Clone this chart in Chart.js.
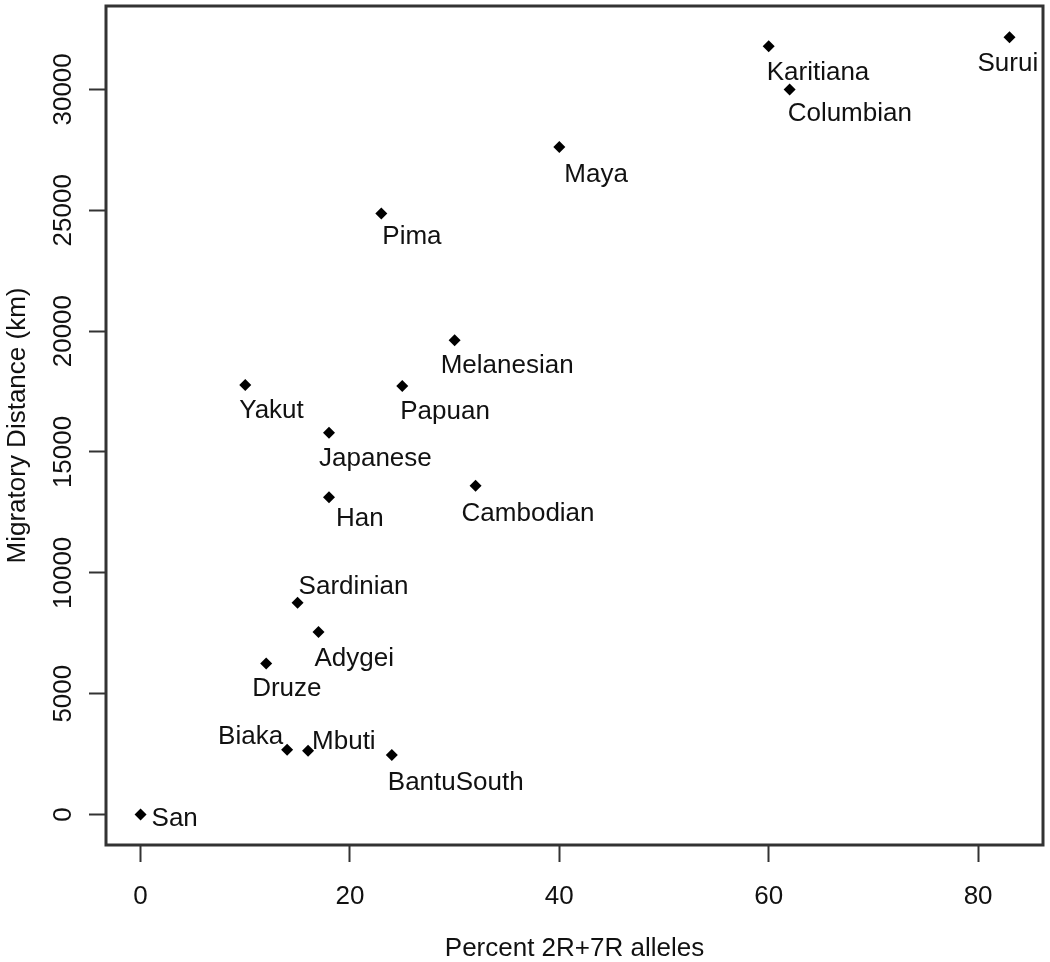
<!DOCTYPE html>
<html>
<head>
<meta charset="utf-8">
<script src="https://cdn.jsdelivr.net/npm/chart.js@4.4.1/dist/chart.umd.min.js"></script>
<style>
    html, body { margin: 0; padding: 0; background: #fff; }
</style>
</head>
<body>
<canvas id="migrationChart" width="1050" height="962"></canvas>
<script>
const populations = ['San', 'Biaka', 'Mbuti', 'BantuSouth', 'Druze', 'Adygei', 'Sardinian', 'Yakut', 'Japanese',
    'Han', 'Papuan', 'Melanesian', 'Cambodian', 'Pima', 'Maya', 'Karitiana', 'Columbian', 'Surui'];
const percentAlleles = [0, 14, 16, 24, 12, 17, 15, 10, 18, 18, 25, 30, 32, 23, 40, 60, 62, 83];
const migratoryDistance = [0, 2680, 2640, 2460, 6250, 7550, 8760, 17770, 15800, 13130, 17730, 19620, 13600,
    24870, 27620, 31790, 30000, 32160];
const xTicks = [0, 20, 40, 60, 80];
const yTicks = [0, 5000, 10000, 15000, 20000, 25000, 30000];

// name placement next to each point: [dx, dy to baseline, align]
const labelPlacement = [
    [11, 11, 'left'], [-4, -6, 'right'], [4, -2, 'left'], [-4, 35, 'left'], [-14, 33, 'left'],
    [-4, 34, 'left'], [1, -9, 'left'], [-6, 33, 'left'], [-10, 33, 'left'], [7, 29, 'left'],
    [-2, 33, 'left'], [-14, 33, 'left'], [-14, 35, 'left'], [1, 31, 'left'], [5, 35, 'left'],
    [-2, 34, 'left'], [-2, 32, 'left'], [-32, 34, 'left']
];

const fontFamily = "'Liberation Sans', Arial, Helvetica, sans-serif";
const inkColor = '#111';

const boxPlugin = {
    id: 'plotBox',
    afterDraw(chart) {
        const {ctx, chartArea} = chart;
        ctx.save();
        ctx.strokeStyle = '#333';
        ctx.lineWidth = 3;
        ctx.strokeRect(chartArea.left, chartArea.top, chartArea.right - chartArea.left, chartArea.bottom - chartArea.top);
        ctx.restore();
    }
};

const namePlugin = {
    id: 'pointNames',
    afterDatasetsDraw(chart) {
        const {ctx} = chart;
        const points = chart.getDatasetMeta(0).data;
        ctx.save();
        ctx.fillStyle = inkColor;
        ctx.font = '26px ' + fontFamily;
        ctx.textBaseline = 'alphabetic';
        points.forEach(function (pt, i) {
            const place = labelPlacement[i];
            ctx.textAlign = place[2];
            ctx.fillText(populations[i], pt.x + place[0], pt.y + place[1]);
        });
        ctx.restore();
    }
};

let chartCanvas = document.getElementById('migrationChart');
let migrationChart = new Chart(chartCanvas, {
    type: 'scatter',
    data: {
        datasets: [{
            label: 'Populations',
            data: percentAlleles.map(function (x, i) {
                return {x: x, y: migratoryDistance[i]};
            }),
            pointStyle: 'rectRot',
            pointRadius: 6,
            backgroundColor: '#000',
            borderColor: '#000',
            borderWidth: 0
        }]
    },
    options: {
        responsive: false,
        animation: false,
        events: [],
        layout: {
            padding: {top: 5, right: 7, left: 0, bottom: 0}
        },
        plugins: {
            legend: {display: false},
            tooltip: {enabled: false}
        },
        scales: {
            x: {
                type: 'linear',
                min: -3.3,
                max: 86.2,
                afterBuildTicks: function (scale) {
                    scale.ticks = xTicks.map(function (v) { return {value: v}; });
                },
                afterFit: function (scale) {
                    scale.height = 117;
                    scale.paddingLeft = 0;
                    scale.paddingRight = 0;
                },
                border: {display: false},
                grid: {
                    drawOnChartArea: false,
                    drawTicks: true,
                    tickLength: 17,
                    tickColor: '#333',
                    tickWidth: 2
                },
                ticks: {
                    autoSkip: false,
                    maxRotation: 0,
                    padding: 19,
                    color: inkColor,
                    font: {family: fontFamily, size: 26},
                    callback: function (value) { return String(value); }
                },
                title: {
                    display: true,
                    text: 'Percent 2R+7R alleles',
                    color: inkColor,
                    font: {family: fontFamily, size: 26, lineHeight: 1},
                    padding: {top: 0, bottom: 0}
                }
            },
            y: {
                type: 'linear',
                min: -1260,
                max: 33450,
                afterBuildTicks: function (scale) {
                    scale.ticks = yTicks.map(function (v) { return {value: v}; });
                },
                afterFit: function (scale) {
                    scale.width = 106;
                    scale.paddingTop = 0;
                    scale.paddingBottom = 0;
                },
                border: {display: false},
                grid: {
                    drawOnChartArea: false,
                    drawTicks: true,
                    tickLength: 17,
                    tickColor: '#333',
                    tickWidth: 2
                },
                ticks: {
                    autoSkip: false,
                    minRotation: 90,
                    maxRotation: 90,
                    crossAlign: 'center',
                    padding: -11,
                    color: inkColor,
                    font: {family: fontFamily, size: 26},
                    callback: function (value) { return String(value); }
                },
                title: {
                    display: true,
                    text: 'Migratory Distance (km)',
                    color: inkColor,
                    font: {family: fontFamily, size: 26, lineHeight: 1},
                    padding: {top: 5, bottom: 0}
                }
            }
        }
    },
    plugins: [boxPlugin, namePlugin]
});
</script>
</body>
</html>
